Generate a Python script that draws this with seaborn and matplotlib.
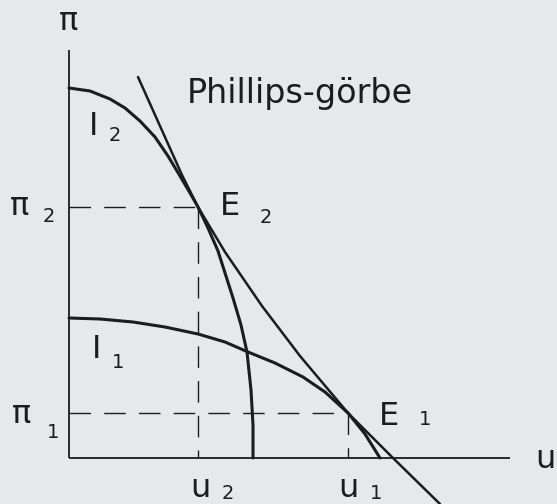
import matplotlib
matplotlib.use("Agg")
import matplotlib.pyplot as plt
import seaborn as sns
import pandas as pd

# Unemployment (u) / inflation (pi) diagram with two indifference curves
# tangent to a Phillips curve.
u2, pi2 = 12.9, 25.1   # point E2
u1, pi1 = 27.9, 4.5    # point E1
u_axis_end, pi_axis_end = 44.1, 40.8

phillips_u = [6.9, 9.1, 11.3, 12.9, 15.6, 19.3, 23.1, 27.9, 32.4, 37.1]
phillips_pi = [38.1, 33.2, 28.3, 25.1, 20.6, 15.2, 10.2, 4.5, 0.0, -4.6]

i2_u = [0.0, 2.1, 4.1, 5.6, 7.1, 8.6, 9.9, 11.1, 12.1, 12.9,
        13.9, 14.9, 16.4, 17.2, 17.8, 18.2, 18.4, 18.4]
i2_pi = [37.0, 36.7, 35.9, 35.0, 33.7, 32.1, 30.2, 28.2, 26.5, 25.1,
         23.0, 20.7, 16.0, 13.3, 10.6, 6.8, 3.3, 0.0]

i1_u = [0.0, 3.1, 6.4, 9.6, 12.9, 15.6, 17.9, 20.6, 23.4, 25.6, 27.9, 29.6, 31.1]
i1_pi = [14.0, 13.9, 13.6, 13.1, 12.4, 11.6, 10.6, 9.5, 8.1, 6.6, 4.5, 2.4, 0.0]

curves = pd.concat([
    pd.DataFrame({"u": phillips_u, "pi": phillips_pi, "curve": "Phillips"}),
    pd.DataFrame({"u": i2_u, "pi": i2_pi, "curve": "I2"}),
    pd.DataFrame({"u": i1_u, "pi": i1_pi, "curve": "I1"}),
], ignore_index=True)

sns.set_theme(style="white")
plt.rcParams["font.family"] = ["DejaVu Sans"]
plt.rcParams["lines.scale_dashes"] = False

bg = "#e7e8ec"
ink = "#1c1c1c"

fig = plt.figure(figsize=(5.57, 5.04), dpi=100, facecolor=bg)
ax = fig.add_axes([0, 0, 1, 1])
ax.set_facecolor(bg)
ax.set_xlim(-6.9, 48.8)
ax.set_ylim(-4.6, 45.8)
ax.axis("off")

# axes
ax.plot([0, 0], [0, pi_axis_end], color=ink, lw=1.3, solid_capstyle="butt")
ax.plot([0, u_axis_end], [0, 0], color=ink, lw=1.3, solid_capstyle="butt")

# guide lines to the equilibrium points
dash = dict(color=ink, lw=1.0, dashes=(15.5, 9.5))
ax.plot([0, u2], [pi2, pi2], **dash)
ax.plot([u2, u2], [pi2, 0], **dash)
ax.plot([0, u1], [pi1, pi1], **dash)
ax.plot([u1, u1], [pi1, 0], **dash)

# curves
for name, lw in [("Phillips", 1.8), ("I2", 2.2), ("I1", 2.2)]:
    sns.lineplot(data=curves[curves["curve"] == name], x="u", y="pi",
                 sort=False, estimator=None, color=ink, lw=lw, ax=ax,
                 legend=False)
ax.set_xlabel("")
ax.set_ylabel("")

big = 23
small = 14
txt = dict(color=ink, va="baseline", ha="left")

ax.text(-0.1, 42.8, "π", fontsize=big, color=ink, ha="center", va="baseline")
ax.text(46.6, -1.0, "u", fontsize=big, **txt)
ax.text(11.8, 35.5, "Phillips-görbe", fontsize=24, **txt)

ax.text(2.0, 32.3, "I", fontsize=big, **txt)
ax.text(4.0, 31.7, "2", fontsize=small, **txt)
ax.text(2.3, 10.0, "I", fontsize=big, **txt)
ax.text(4.3, 9.0, "1", fontsize=small, **txt)

ax.text(15.1, 24.3, "E", fontsize=big, **txt)
ax.text(19.1, 23.5, "2", fontsize=small, **txt)
ax.text(31.0, 3.3, "E", fontsize=big, **txt)
ax.text(35.0, 3.3, "1", fontsize=small, **txt)

ax.text(-5.9, 24.3, "π", fontsize=big, **txt)
ax.text(-2.6, 23.6, "2", fontsize=small, **txt)
ax.text(-5.7, 3.5, "π", fontsize=big, **txt)
ax.text(-2.2, 2.0, "1", fontsize=small, **txt)

ax.text(12.1, -3.9, "u", fontsize=big, **txt)
ax.text(15.3, -4.1, "2", fontsize=small, **txt)
ax.text(26.9, -3.9, "u", fontsize=big, **txt)
ax.text(30.1, -4.1, "1", fontsize=small, **txt)

fig.savefig("out.png", dpi=100, facecolor=bg)
